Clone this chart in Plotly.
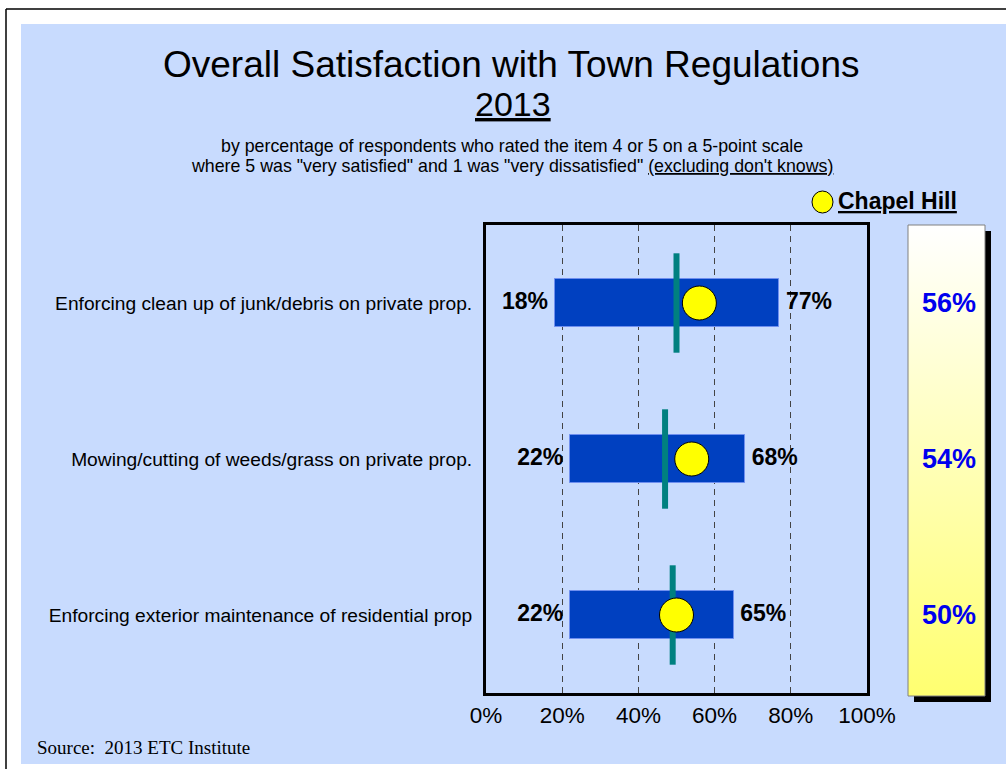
import plotly.graph_objects as go

# ---------------- data ----------------
categories = [
    "Enforcing clean up of junk/debris on private prop.",
    "Mowing/cutting of weeds/grass on private prop.",
    "Enforcing exterior maintenance of residential prop",
]
low = [18, 22, 22]
high = [77, 68, 65]
average = [50, 47, 49]
chapel_hill = [56, 54, 50]
x_ticks = [0, 20, 40, 60, 80, 100]
x_tick_labels = ["0%", "20%", "40%", "60%", "80%", "100%"]

# ---------------- layout helpers ----------------
W, H = 1006, 769
def px(x):
    return x / W
def py(y):
    return 1 - y / H

SANS = "Arial, Liberation Sans, sans-serif"
SERIF = "Times New Roman, Liberation Serif, serif"
BLUE_BG = "#C8DBFE"

fig = go.Figure()

# range bars
fig.add_trace(go.Bar(
    y=categories, base=low, x=[h - l for h, l in zip(high, low)],
    orientation="h", width=0.31,
    marker=dict(color="#0040C0", line=dict(color="#6F8FEF", width=1)),
    showlegend=False, hoverinfo="skip",
))
# average (teal vertical marks)
fig.add_trace(go.Scatter(
    y=categories, x=average, mode="markers",
    marker=dict(symbol="line-ns", size=71, line=dict(color="#008080", width=6)),
    showlegend=False, hoverinfo="skip",
))
# Chapel Hill circles
fig.add_trace(go.Scatter(
    y=categories, x=chapel_hill, mode="markers",
    marker=dict(symbol="circle", size=34, color="#FFFF00", line=dict(color="black", width=1)),
    showlegend=False, hoverinfo="skip",
))
# low / high labels (invisible markers give the text a small gap from the bar ends)
fig.add_trace(go.Scatter(
    y=categories, x=low, mode="markers+text", text=[f"<b>{v}%</b>" for v in low],
    marker=dict(size=9, opacity=0),
    textposition="middle left", textfont=dict(size=23, color="black", family=SANS),
    showlegend=False, hoverinfo="skip",
))
fig.add_trace(go.Scatter(
    y=categories, x=high, mode="markers+text", text=[f"<b>{v}%</b>" for v in high],
    marker=dict(size=9, opacity=0),
    textposition="middle right", textfont=dict(size=23, color="black", family=SANS),
    showlegend=False, hoverinfo="skip",
))

# gradient panel on the right
fig.add_trace(go.Scatter(
    x=[0, 1, 1, 0, 0], y=[0, 0, 1, 1, 0], xaxis="x2", yaxis="y2",
    mode="lines", line=dict(width=0), fill="toself",
    fillgradient=dict(type="vertical", colorscale=[[0, "#FFFF70"], [1, "#FFFFFF"]]),
    showlegend=False, hoverinfo="skip",
))

shapes = [
    # outer frame lines
    dict(type="line", xref="paper", yref="paper", x0=px(6), x1=1, y0=py(9), y1=py(9),
         line=dict(color="black", width=1.5), layer="below"),
    dict(type="line", xref="paper", yref="paper", x0=px(6), x1=px(6), y0=py(9), y1=0,
         line=dict(color="black", width=1.5), layer="below"),
    # blue background
    dict(type="rect", xref="paper", yref="paper", x0=px(21), x1=1, y0=py(764), y1=py(24),
         fillcolor=BLUE_BG, line=dict(width=0), layer="below"),
    # panel shadow
    dict(type="rect", xref="paper", yref="paper", x0=px(914), x1=px(991), y0=py(702), y1=py(231),
         fillcolor="black", line=dict(width=0), layer="below"),
    # panel border
    dict(type="rect", xref="paper", yref="paper", x0=px(908), x1=px(985), y0=py(696), y1=py(225),
         fillcolor="rgba(0,0,0,0)", line=dict(color="#808080", width=1)),
    # legend circle
    dict(type="circle", xref="paper", yref="paper", x0=px(812), x1=px(833), y0=py(213), y1=py(191),
         fillcolor="#FFFF00", line=dict(color="black", width=1)),
]

annotations = [
    dict(text="Overall Satisfaction with Town Regulations", x=px(512), y=py(64),
         font=dict(size=37, family=SANS, color="black")),
    dict(text="<u>2013</u>", x=px(513), y=py(104), font=dict(size=34, family=SANS, color="black")),
    dict(text="by percentage of respondents who rated the item 4 or 5 on a 5-point scale",
         x=px(512), y=py(146), font=dict(size=17.8, family=SANS, color="black")),
    dict(text="where 5 was \"very satisfied\" and 1 was \"very dissatisfied\" <u>(excluding don't knows)</u>",
         x=px(512), y=py(166), font=dict(size=17.8, family=SANS, color="black")),
    dict(text="<b><u>Chapel Hill</u></b>", x=px(836), y=py(201), xanchor="left",
         font=dict(size=23, family=SANS, color="black")),
    dict(text="Source:\u00a0 2013 ETC Institute", x=px(35), y=py(747), xanchor="left",
         font=dict(size=19, family=SERIF, color="black")),
]
for a in annotations:
    a.update(xref="paper", yref="paper", showarrow=False)
    a.setdefault("xanchor", "center")
    a["yanchor"] = "middle"

for cat, v in zip(categories, chapel_hill):
    annotations.append(dict(
        text=f"<b>{v}%</b>", x=px(949), xref="paper", y=cat, yref="y",
        showarrow=False, xanchor="center", yanchor="middle",
        font=dict(size=27, family=SANS, color="#0000EE"),
    ))

fig.update_layout(
    width=W, height=H, autosize=False,
    margin=dict(l=0, r=0, t=0, b=0, pad=0, autoexpand=False),
    paper_bgcolor="white", plot_bgcolor="white",
    bargap=0,
    xaxis=dict(
        domain=[px(486), px(867)], range=[0, 100],
        tickvals=x_ticks, ticktext=x_tick_labels,
        tickfont=dict(size=22.5, family=SANS, color="black"),
        showgrid=True, gridcolor="#444444", griddash="6px,5px", gridwidth=1,
        zeroline=False, showline=True, mirror=True, linecolor="black", linewidth=3,
        ticks="", fixedrange=True, automargin=False,
    ),
    yaxis=dict(
        domain=[py(693), py(225)], type="category", range=[2.5, -0.5],
        tickfont=dict(size=19.2, family=SANS, color="black"),
        showgrid=False, zeroline=False, showline=True, mirror=True,
        linecolor="black", linewidth=3,
        ticks="outside", ticklen=7, tickcolor="rgba(0,0,0,0)", fixedrange=True,
        automargin=False,
    ),
    xaxis2=dict(domain=[px(908), px(985)], range=[0, 1], visible=False, anchor="y2",
                fixedrange=True, automargin=False),
    yaxis2=dict(domain=[py(696), py(225)], range=[0, 1], visible=False, anchor="x2",
                fixedrange=True, automargin=False),
    shapes=shapes,
    annotations=annotations,
    showlegend=False,
)

fig.write_html(
    "out.html",
    config={"displayModeBar": False},
    post_script="document.body.style.margin='0';document.body.style.overflow='hidden';",
)
